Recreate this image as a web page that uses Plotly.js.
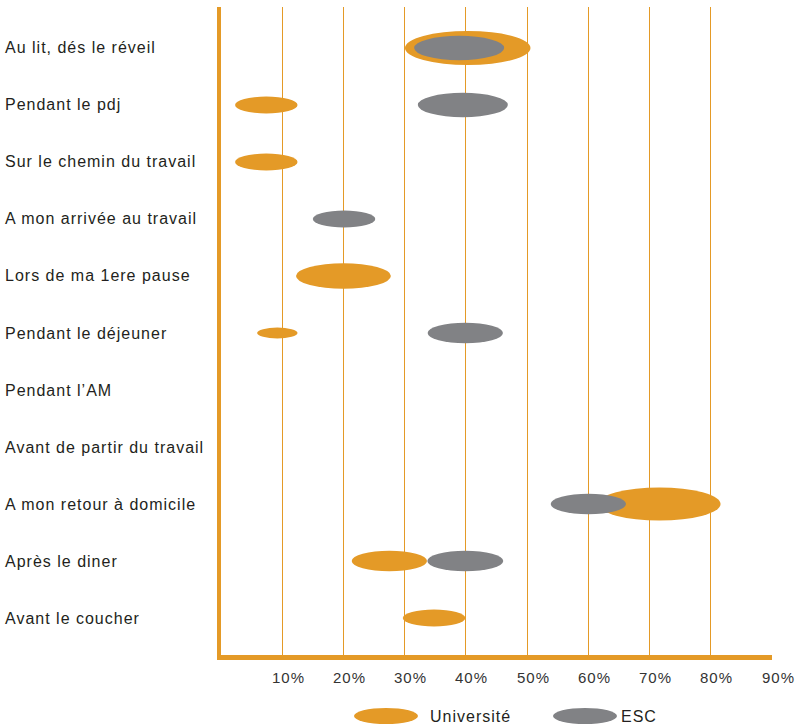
<!DOCTYPE html>
<html>
<head>
<meta charset="utf-8">
<script src="https://cdn.plot.ly/plotly-3.0.1.min.js"></script>
<style>
html,body{margin:0;padding:0;background:#fff;}
#chart{width:797px;height:725px;}
.annotation-text{letter-spacing:1px;}
</style>
</head>
<body>
<div id="chart"></div>
<script>
// ---- data ----
const categories = [
  "Au lit, dés le réveil",
  "Pendant le pdj",
  "Sur le chemin du travail",
  "A mon arrivée au travail",
  "Lors de ma 1ere pause",
  "Pendant le déjeuner",
  "Pendant l’AM",
  "Avant de partir du travail",
  "A mon retour à domicile",
  "Après le diner",
  "Avant le coucher"
];
const univValue = [40.3, 7.4, 7.4, null, 20.0, 9.2, null, null, 71.6, 27.5, 34.8];
const univSpread = [20.5, 10.2, 10.2, null, 15.5, 6.6, null, null, 20.0, 12.3, 10.2];
const escValue = [38.9, 39.5, null, 20.1, null, 39.9, null, null, 60.0, 39.9, null];
const escSpread = [14.7, 14.7, null, 10.2, null, 12.3, null, null, 12.3, 12.4, null];
const tickVals = [10, 20, 30, 40, 50, 60, 70, 80, 90];
const tickText = ["10%", "20%", "30%", "40%", "50%", "60%", "70%", "80%", "90%"];
const seriesNames = ["Université", "ESC"];

// ---- styling ----
const ORANGE = "#E49A27";
const GRAY = "#818285";
const FONT = "Liberation Sans, Arial, Helvetica, sans-serif";
const W = 797, H = 725;
const margin = {l: 221, r: 25, t: 7, b: 70};
const plotW = W - margin.l - margin.r;
const plotH = H - margin.t - margin.b;
const xRange = [0, 90];
const yRange = [10.649, -0.719];
const pxPerX = plotW / (xRange[1] - xRange[0]);
const pxPerY = plotH / Math.abs(yRange[0] - yRange[1]);
const aspect = 0.27;

const rows = categories.map((c, i) => i);
const shapes = [];
function addEllipses(values, spreads, color) {
  values.forEach((v, i) => {
    if (v === null) return;
    const w = spreads[i];
    const hY = aspect * w * pxPerX / pxPerY;
    shapes.push({
      type: "circle", xref: "x", yref: "y",
      x0: v - w / 2, x1: v + w / 2, y0: i - hY / 2, y1: i + hY / 2,
      fillcolor: color, line: {width: 0}, layer: "above"
    });
  });
}
addEllipses(univValue, univSpread, ORANGE);
addEllipses(escValue, escSpread, GRAY);

function px2paperX(p) { return (p - margin.l) / plotW; }
function px2paperY(p) { return (H - margin.b - p) / plotH; }

const annotations = [];
// custom legend with ellipse swatches
const legendItems = [
  {name: seriesNames[0], color: ORANGE, cx: 386, tx: 428},
  {name: seriesNames[1], color: GRAY, cx: 585, tx: 619}
];
legendItems.forEach(it => {
  shapes.push({
    type: "circle", xref: "paper", yref: "paper",
    x0: px2paperX(it.cx - 32), x1: px2paperX(it.cx + 32),
    y0: px2paperY(724), y1: px2paperY(708),
    fillcolor: it.color, line: {width: 0}
  });
  annotations.push({
    xref: "paper", yref: "paper", x: px2paperX(it.tx), y: px2paperY(716),
    xanchor: "left", yanchor: "middle", showarrow: false, text: it.name,
    font: {family: FONT, size: 16, color: "#231F20"}
  });
});
// category labels, left aligned
categories.forEach((c, i) => {
  annotations.push({
    xref: "paper", yref: "y", x: px2paperX(3), y: i,
    xanchor: "left", yanchor: "middle", showarrow: false, text: c,
    font: {family: FONT, size: 16, color: "#231F20"}
  });
});
// x tick labels
tickVals.forEach((v, i) => {
  annotations.push({
    xref: "x", yref: "paper", x: v, y: px2paperY(677), xshift: 6,
    xanchor: "center", yanchor: "middle", showarrow: false, text: tickText[i],
    font: {family: FONT, size: 15, color: "#333"}
  });
});

const traces = [
  {type: "scatter", mode: "markers", name: seriesNames[0], x: univValue, y: rows,
   marker: {color: ORANGE, size: 1, opacity: 0}, showlegend: false,
   hovertemplate: "%{x}%<extra>" + seriesNames[0] + "</extra>"},
  {type: "scatter", mode: "markers", name: seriesNames[1], x: escValue, y: rows,
   marker: {color: GRAY, size: 1, opacity: 0}, showlegend: false,
   hovertemplate: "%{x}%<extra>" + seriesNames[1] + "</extra>"}
];

const layout = {
  width: W, height: H, margin: margin,
  paper_bgcolor: "#fff", plot_bgcolor: "#fff",
  showlegend: false,
  font: {family: FONT, color: "#231F20"},
  xaxis: {
    range: xRange, tickvals: tickVals, ticktext: tickText,
    showticklabels: false,
    showgrid: true, gridcolor: ORANGE, gridwidth: 1.2,
    zeroline: false, showline: true, linecolor: ORANGE, linewidth: 5,
    ticks: "", fixedrange: true
  },
  yaxis: {
    range: yRange, showgrid: false, zeroline: false, showticklabels: false,
    showline: true, linecolor: ORANGE, linewidth: 4, ticks: "", fixedrange: true
  },
  shapes: shapes,
  annotations: annotations
};

Plotly.newPlot("chart", traces, layout, {displayModeBar: false, staticPlot: true});
</script>
</body>
</html>
